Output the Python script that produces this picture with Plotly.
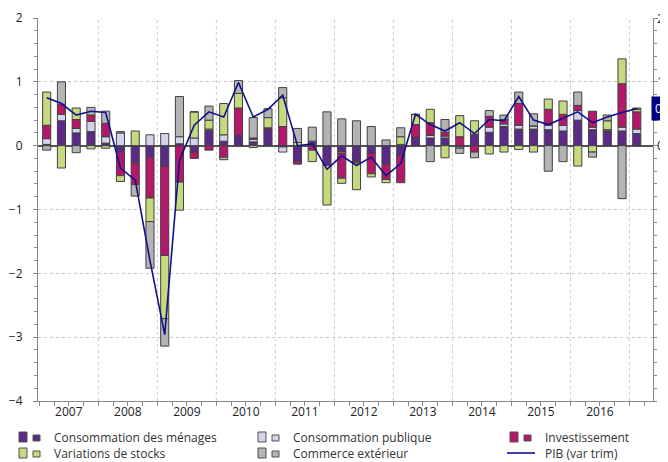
import plotly.graph_objects as go

years = ["2007", "2008", "2009", "2010", "2011", "2012", "2013", "2014", "2015", "2016"]
quarters = list(range(41))  # 2007T1 .. 2017T1

menages = [0.02, 0.39, 0.20, 0.22,
           0.04, -0.10, -0.27, -0.18,
           -0.32, 0.03, -0.10, 0.24,
           0.07, 0.16, 0.06, 0.26,
           -0.02, -0.25, 0.07, -0.31,
           -0.10, -0.24, -0.12, -0.29,
           -0.15, 0.13, 0.12, 0.12,
           -0.02, 0.18, 0.21, 0.30,
           0.26, 0.26, 0.25, 0.23,
           0.40, 0.25, 0.23, 0.23,
           0.19]
publique = [0.09, 0.10, 0.07, 0.16,
            0.10, 0.20, 0.00, 0.17,
            0.19, 0.11, 0.12, 0.02,
            0.10, 0.00, 0.04, 0.00,
            -0.08, 0.00, 0.00, 0.00,
            -0.02, 0.00, 0.00, 0.00,
            0.02, 0.00, 0.04, 0.03,
            -0.02, 0.00, 0.08, 0.04,
            0.06, 0.05, 0.07, 0.09,
            0.15, 0.04, 0.02, 0.06,
            0.07]
invest = [0.21, 0.16, 0.14, 0.10,
          0.21, -0.37, -0.34, -0.64,
          -1.40, -0.57, -0.10, -0.07,
          -0.18, 0.43, 0.02, 0.02,
          0.30, -0.04, -0.07, 0.00,
          -0.39, -0.03, -0.32, -0.24,
          -0.43, 0.20, 0.20, 0.06,
          0.14, -0.10, 0.17, 0.07,
          0.34, 0.00, 0.25, 0.17,
          0.08, 0.25, 0.00, 0.68,
          0.27]
stocks = [0.52, -0.35, 0.18, -0.05,
          -0.04, -0.09, 0.23, -0.37,
          -0.99, -0.44, 0.41, 0.14,
          0.49, 0.23, -0.03, 0.16,
          0.45, 0.05, -0.18, -0.62,
          -0.08, -0.42, -0.05, -0.05,
          0.12, 0.16, 0.21, -0.19,
          0.33, 0.21, -0.13, -0.10,
          -0.06, -0.10, 0.16, 0.21,
          -0.32, -0.10, 0.14, 0.39,
          0.04]
commerce = [-0.07, 0.35, -0.11, 0.12,
            0.19, 0.02, -0.18, -0.73,
            -0.43, 0.63, 0.00, 0.22,
            -0.04, 0.20, 0.32, 0.14,
            0.16, 0.22, 0.22, 0.53,
            0.42, 0.39, 0.30, 0.09,
            0.14, 0.00, -0.25, 0.20,
            -0.08, -0.09, 0.09, 0.07,
            0.18, 0.19, -0.40, -0.25,
            0.21, -0.08, 0.09, -0.83,
            0.02]
pib = [0.75, 0.66, 0.48, 0.54,
       0.52, -0.35, -0.54, -1.80,
       -2.96, -0.23, 0.32, 0.53,
       0.45, 0.99, 0.45, 0.57,
       0.79, 0.00, 0.03, -0.37,
       -0.16, -0.31, -0.18, -0.47,
       -0.28, 0.49, 0.33, 0.23,
       0.36, 0.19, 0.41, 0.39,
       0.77, 0.40, 0.33, 0.43,
       0.53, 0.36, 0.45, 0.52,
       0.58]
last_label = "0,6"
right_ticks = [0, 1, 2]

names = ["Consommation des ménages", "Consommation publique", "Investissement",
         "Variations de stocks", "Commerce extérieur"]
colors = ["#5B2A86", "#D5D2EE", "#B5186B", "#C5D97F", "#B4B4B4"]
series = [menages, publique, invest, stocks, commerce]

fig = go.Figure()
for nm, col, vals in zip(names, colors, series):
    fig.add_trace(go.Bar(x=quarters, y=vals, name=nm, marker=dict(color=col, line=dict(color="#404040", width=1)),
                         width=0.55, showlegend=False))
fig.add_trace(go.Scatter(x=quarters, y=pib, mode="lines", name="PIB (var trim)",
                         line=dict(color="#10108C", width=1.6), yaxis="y2", showlegend=False))

# page offset of the plot div (default body margin)
OFF = 8
W, H = 668 - OFF, 462 - OFF
L, R, T, B = 38 - OFF, 15, 18 - OFF, 61
pw, ph = W - L - R, H - T - B

def px(xp):
    return (xp - OFF - L) / pw

def py(yp):
    return (H - B - (yp - OFF)) / ph

shapes = []
for k in range(1, 11):
    xb = 4 * k - 0.5
    shapes.append(dict(type="line", xref="x", yref="paper", x0=xb, x1=xb, y0=0, y1=1,
                       line=dict(color="#C8C8C8", width=1, dash="dot"), layer="below"))

annotations = []
fnt = "Open Sans, Liberation Sans, sans-serif"
legend_items = [
    (0, 0, colors[0], names[0], "bar"), (1, 0, colors[1], names[1], "bar"), (2, 0, colors[2], names[2], "bar"),
    (0, 1, colors[3], names[3], "bar"), (1, 1, colors[4], names[4], "bar"), (2, 1, "#10108C", "PIB (var trim)", "line"),
]
col_x = [19, 258, 510]
row_y = [437, 453]
for c, r, col, nm, kind in legend_items:
    x0 = col_x[c]
    yc = row_y[r]
    if kind == "bar":
        shapes.append(dict(type="rect", xref="paper", yref="paper", x0=px(x0), x1=px(x0 + 8),
                           y0=py(yc + 5), y1=py(yc - 5), fillcolor=col, line=dict(color="#505050", width=1)))
        shapes.append(dict(type="rect", xref="paper", yref="paper", x0=px(x0 + 14), x1=px(x0 + 21),
                           y0=py(yc + 4), y1=py(yc - 2), fillcolor=col, line=dict(color="#505050", width=1)))
    else:
        shapes.append(dict(type="line", xref="paper", yref="paper", x0=px(x0 - 3), x1=px(x0 + 25),
                           y0=py(yc), y1=py(yc), line=dict(color=col, width=1.6)))
    annotations.append(dict(xref="paper", yref="paper", x=px(x0 + 33), y=py(yc), text=nm, showarrow=False,
                            xanchor="left", yanchor="middle", font=dict(family=fnt, size=12, color="#333333")))

# right-axis tick labels
for v in right_ticks:
    annotations.append(dict(xref="paper", yref="y2", x=1.0, y=v, text=str(v), showarrow=False,
                            xanchor="left", yanchor="middle", xshift=2,
                            font=dict(family=fnt, size=12, color="#222222")))

annotations.append(dict(xref="paper", yref="y2", x=1.0, y=pib[-1], text=last_label, showarrow=False,
                        xanchor="left", yanchor="middle", xshift=-2,
                        bgcolor="#000080", borderpad=3,
                        font=dict(family=fnt, size=12, color="white")))

fig.update_layout(
    width=W, height=H,
    margin=dict(l=L, r=R, t=T, b=B, autoexpand=False),
    barmode="relative",
    plot_bgcolor="white", paper_bgcolor="white",
    font=dict(family=fnt, size=12, color="#222222"),
    xaxis=dict(range=[-0.59, 41.1], tickvals=[1.5 + 4 * k for k in range(10)], ticktext=years,
               ticks="", showgrid=False, zeroline=False, showline=True, linecolor="#888888",
               automargin=False, tickfont=dict(size=12, color="#222222"),
               minor=dict(ticks="outside", tick0=-0.5, dtick=1, ticklen=4, tickcolor="#888888", showgrid=False)),
    yaxis=dict(range=[-4, 2], tickvals=[-4, -3, -2, -1, 0, 1, 2], showgrid=True, gridcolor="#C8C8C8",
               griddash="dot", zeroline=True, zerolinecolor="#555555", zerolinewidth=1.5,
               showline=True, linecolor="#888888", ticks="outside", ticklen=4, tickcolor="#888888",
               automargin=False, ticklabelstandoff=8, tickfont=dict(size=12, color="#222222"),
               minor=dict(ticks="outside", dtick=0.2, ticklen=3, tickcolor="#888888", showgrid=False)),
    yaxis2=dict(range=[-4, 2], overlaying="y", side="right", tickvals=right_ticks, showticklabels=False,
                showgrid=False, zeroline=False, showline=True, linecolor="#888888", ticks="outside", ticklen=4,
                automargin=False, tickcolor="#888888",
                minor=dict(ticks="outside", dtick=0.2, ticklen=3, tickcolor="#888888", showgrid=False)),
    shapes=shapes,
    annotations=annotations,
)

fig.write_html("out.html")
